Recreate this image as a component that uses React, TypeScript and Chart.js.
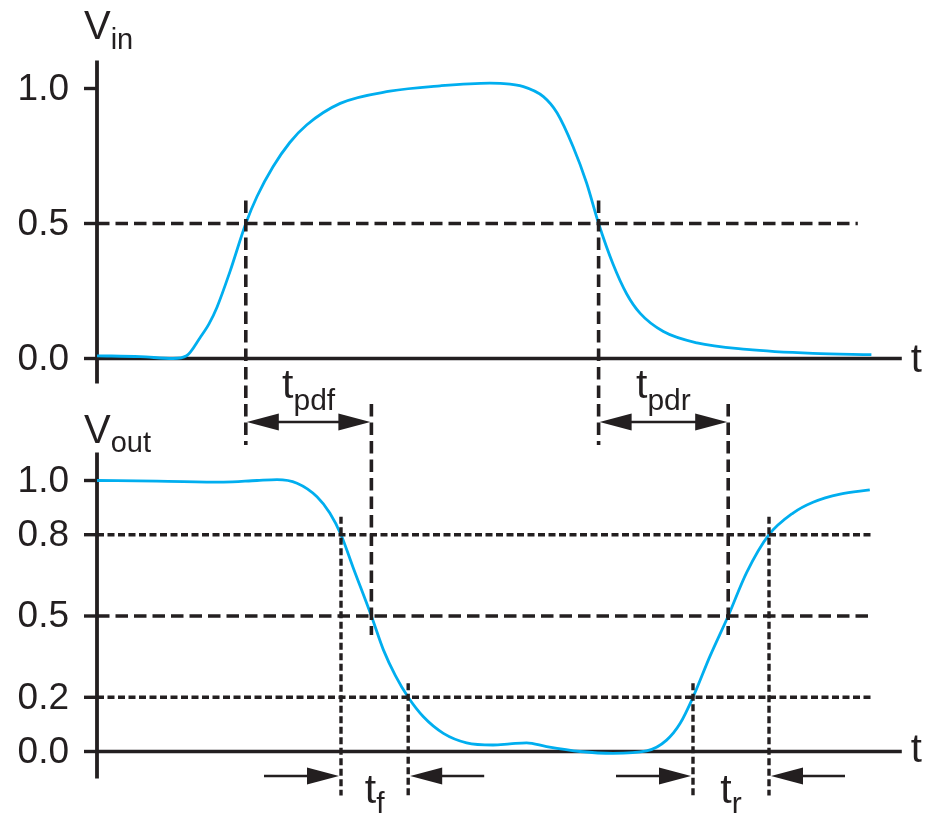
import React, { useEffect, useRef } from 'react';
import { Chart, registerables } from 'chart.js';

Chart.register(...registerables);

// ---------------- data (time in arbitrary units, voltage normalised) ----------------
const VIN_T = [0, 5.4, 9.5, 11.2, 12.9, 14.0, 15.0, 16.6, 18.6, 20.0, 22.0, 24.1, 26.2, 30.4, 36.6, 42.9, 49.1, 50.4, 53.3, 55.8, 57.5, 59.5, 61.2, 62.7, 64.5, 66.2, 67.9, 70.8, 75.0, 81.2, 89.5, 96.8];
const VIN_V = [0.010, 0.007, 0.0, 0.010, 0.078, 0.128, 0.19, 0.32, 0.50, 0.60, 0.71, 0.80, 0.865, 0.945, 0.99, 1.01, 1.02, 1.019, 1.007, 0.97, 0.91, 0.785, 0.65, 0.50, 0.35, 0.24, 0.167, 0.10, 0.058, 0.034, 0.019, 0.014];

const VOUT_T = [0, 7.5, 15.8, 20.0, 22.5, 25.0, 27.5, 29.1, 30.5, 32.0, 34.3, 35.8, 37.3, 38.9, 40.8, 43.3, 46.2, 49.5, 51.6, 53.7, 56.2, 60.4, 64.5, 68.7, 71.2, 72.9, 74.5, 76.6, 78.9, 81.2, 84.0, 87.0, 89.5, 92.9, 96.6];
const VOUT_V = [1.0, 0.998, 0.994, 1.0, 1.003, 0.99, 0.94, 0.88, 0.80, 0.68, 0.50, 0.375, 0.28, 0.20, 0.128, 0.067, 0.032, 0.024, 0.028, 0.032, 0.018, 0.0, -0.007, 0.002, 0.042, 0.104, 0.20, 0.35, 0.50, 0.66, 0.80, 0.88, 0.92, 0.95, 0.965];

const IN_TICKS = [0, 0.5, 1.0];
const IN_TICK_LABELS = ['0.0', '0.5', '1.0'];
const OUT_TICKS = [0, 0.2, 0.5, 0.8, 1.0];
const OUT_TICK_LABELS = ['0.0', '0.2', '0.5', '0.8', '1.0'];

const IN_DASHED_LEVELS = [0.5];
const OUT_DASHED_LEVELS = [0.5];
const OUT_DOTTED_LEVELS = [0.8, 0.2];

const T_AXIS_END = 100.6;
const IN_REF_END = 95.1;
const OUT_REF_END = 97.0;

// propagation delays (50% crossings)
const T_PDF = [18.6, 34.3];
const T_PDR = [62.7, 78.9];
// fall / rise times (80%-20% and 20%-80%)
const T_F = [30.5, 38.9];
const T_F_LEVELS = [0.8, 0.2];
const T_R = [74.5, 84.0];
const T_R_LEVELS = [0.2, 0.8];

// ---------------- styles ----------------
const INK = '#231f20';
const CYAN = '#00aeef';
const FONT = '"Liberation Sans", Arial, Helvetica, sans-serif';
const W = 936;
const H = 823;

function line(ctx: CanvasRenderingContext2D, x1: number, y1: number, x2: number, y2: number) {
  ctx.beginPath();
  ctx.moveTo(x1, y1);
  ctx.lineTo(x2, y2);
  ctx.stroke();
}

function subText(
  ctx: CanvasRenderingContext2D,
  x: number,
  y: number,
  main: string,
  sub: string,
  mainSize: number,
  subSize: number,
  subDy: number,
  align: 'left' | 'center'
) {
  ctx.fillStyle = INK;
  ctx.textBaseline = 'alphabetic';
  ctx.textAlign = 'left';
  ctx.font = `${mainSize}px ${FONT}`;
  const wm = ctx.measureText(main).width;
  ctx.font = `${subSize}px ${FONT}`;
  const ws = ctx.measureText(sub).width;
  const sx = align === 'center' ? x - (wm + ws) / 2 : x;
  ctx.font = `${mainSize}px ${FONT}`;
  ctx.fillText(main, sx, y);
  ctx.font = `${subSize}px ${FONT}`;
  ctx.fillText(sub, sx + wm, y + subDy);
}

function head(ctx: CanvasRenderingContext2D, tipX: number, y: number, dir: number) {
  const len = 32;
  const half = 8.5;
  ctx.fillStyle = INK;
  ctx.beginPath();
  ctx.moveTo(tipX, y);
  ctx.lineTo(tipX - dir * len, y - half);
  ctx.lineTo(tipX - dir * len, y + half);
  ctx.closePath();
  ctx.fill();
}

function drawAxes(
  ctx: CanvasRenderingContext2D,
  xs: any,
  ys: any,
  ticks: number[],
  labels: string[],
  sub: string,
  topPad: number,
  bottomPad: number,
  vOff: number,
  subDy: number,
  tOff: number
) {
  const x0 = xs.getPixelForValue(0);
  const y0 = ys.getPixelForValue(0);
  const y1 = ys.getPixelForValue(1);
  const xEnd = xs.getPixelForValue(T_AXIS_END);
  ctx.strokeStyle = INK;
  ctx.setLineDash([]);
  ctx.lineCap = 'butt';
  ctx.lineWidth = 3.8;
  line(ctx, x0, y1 - topPad, x0, y0 + bottomPad);
  ctx.lineWidth = 3.6;
  line(ctx, x0, y0, xEnd, y0);
  ticks.forEach((v, i) => {
    const py = ys.getPixelForValue(v);
    ctx.lineWidth = 3.4;
    line(ctx, x0 - 13, py, x0, py);
    ctx.fillStyle = INK;
    ctx.font = `37px ${FONT}`;
    ctx.textAlign = 'right';
    ctx.textBaseline = 'middle';
    ctx.fillText(labels[i], x0 - 28, py + 1);
  });
  subText(ctx, x0 - 13, y1 - vOff, 'V', sub, 40, 29, subDy, 'left');
  ctx.fillStyle = INK;
  ctx.font = `40px ${FONT}`;
  ctx.textAlign = 'left';
  ctx.textBaseline = 'alphabetic';
  ctx.fillText('t', xEnd + 9, y0 + tOff);
}

const diagramPlugin = {
  id: 'diagram',
  beforeDatasetsDraw(chart: any) {
    const ctx: CanvasRenderingContext2D = chart.ctx;
    const xs = chart.scales.x;
    ctx.save();
    drawAxes(ctx, xs, chart.scales.yIn, IN_TICKS, IN_TICK_LABELS, 'in', 28, 25, 50, 10, 13);
    drawAxes(ctx, xs, chart.scales.yOut, OUT_TICKS, OUT_TICK_LABELS, 'out', 28, 27, 38, 9, 10);
    ctx.restore();
  },
  afterDatasetsDraw(chart: any) {
    const ctx: CanvasRenderingContext2D = chart.ctx;
    const xs = chart.scales.x;
    const yi = chart.scales.yIn;
    const yo = chart.scales.yOut;
    const X = (t: number) => xs.getPixelForValue(t);
    const YI = (v: number) => yi.getPixelForValue(v);
    const YO = (v: number) => yo.getPixelForValue(v);
    const x0 = X(0);
    ctx.save();
    ctx.strokeStyle = INK;
    ctx.lineCap = 'butt';

    // horizontal reference levels
    ctx.lineWidth = 3.6;
    ctx.setLineDash([12.5, 6]);
    IN_DASHED_LEVELS.forEach((v) => line(ctx, x0, YI(v), X(IN_REF_END), YI(v)));
    OUT_DASHED_LEVELS.forEach((v) => line(ctx, x0, YO(v), X(OUT_REF_END), YO(v)));
    ctx.lineWidth = 3.4;
    ctx.setLineDash([7, 3.5]);
    OUT_DOTTED_LEVELS.forEach((v) => line(ctx, x0, YO(v), X(OUT_REF_END), YO(v)));

    // propagation delay markers
    const aY = YI(0) + 63.5;
    ctx.lineWidth = 3.6;
    ctx.setLineDash([12.5, 6]);
    [T_PDF[0], T_PDR[0]].forEach((t) => line(ctx, X(t), YI(0.5) - 23, X(t), aY + 23));
    [T_PDF[1], T_PDR[1]].forEach((t) => line(ctx, X(t), aY - 18, X(t), YO(0.5) + 19));
    ctx.setLineDash([]);
    [
      [T_PDF, 'pdf'],
      [T_PDR, 'pdr'],
    ].forEach(([pair, sub]: any) => {
      const x1 = X(pair[0]);
      const x2 = X(pair[1]);
      ctx.lineWidth = 2.4;
      line(ctx, x1 + 10, aY, x2 - 10, aY);
      head(ctx, x1 + 1, aY, -1);
      head(ctx, x2 - 1, aY, 1);
      subText(ctx, (x1 + x2) / 2, aY - 24, 't', sub, 41, 30, 12, 'center');
    });

    // rise / fall markers
    const bY = YO(0) + 24.5;
    [
      [T_F, T_F_LEVELS, 'f'],
      [T_R, T_R_LEVELS, 'r'],
    ].forEach(([pair, levels, sub]: any) => {
      const x1 = X(pair[0]);
      const x2 = X(pair[1]);
      ctx.strokeStyle = INK;
      ctx.lineWidth = 3.4;
      ctx.setLineDash([7, 3.5]);
      line(ctx, x1, YO(levels[0]) - (levels[0] > 0.5 ? 18 : 14), x1, YO(0) + 44);
      line(ctx, x2, YO(levels[1]) - (levels[1] > 0.5 ? 18 : 14), x2, YO(0) + 44);
      ctx.setLineDash([]);
      ctx.lineWidth = 2.4;
      line(ctx, x1 - 77, bY, x1 - 10, bY);
      head(ctx, x1 - 2, bY, 1);
      line(ctx, x2 + 10, bY, x2 + 76, bY);
      head(ctx, x2 + 2, bY, -1);
      subText(ctx, (x1 + x2) / 2, bY + 27, 't', sub, 41, 30, 10, 'center');
    });

    ctx.restore();
  },
};

// pixel frame of the diagram (where t = 0 and the voltage levels sit)
const T0_PX = 97;
const PX_PER_T = 8;
const IN_ZERO_PX = 358.5;
const IN_PX_PER_V = 270;
const OUT_ZERO_PX = 751.5;
const OUT_PX_PER_V = 271;

export default function App() {
  const ref = useRef<HTMLCanvasElement>(null);
  useEffect(() => {
    const canvas = ref.current;
    if (!canvas) return;
    const chart = new Chart(canvas, {
      type: 'line',
      data: {
        datasets: [
          {
            label: 'Vin',
            data: VIN_T.map((t, i) => ({ x: t, y: VIN_V[i] })),
            yAxisID: 'yIn',
            borderColor: CYAN,
            borderWidth: 2.8,
            pointRadius: 0,
            fill: false,
            cubicInterpolationMode: 'monotone',
          },
          {
            label: 'Vout',
            data: VOUT_T.map((t, i) => ({ x: t, y: VOUT_V[i] })),
            yAxisID: 'yOut',
            borderColor: CYAN,
            borderWidth: 2.8,
            pointRadius: 0,
            fill: false,
            cubicInterpolationMode: 'monotone',
          },
        ],
      },
      options: {
        responsive: false,
        devicePixelRatio: 1,
        animation: false,
        events: [],
        layout: { padding: 0 },
        plugins: {
          legend: { display: false },
          tooltip: { enabled: false },
          title: { display: false },
        },
        scales: {
          x: {
            type: 'linear',
            display: false,
            min: -T0_PX / PX_PER_T,
            max: (W - T0_PX) / PX_PER_T,
          },
          yIn: {
            type: 'linear',
            display: false,
            min: -(H - IN_ZERO_PX) / IN_PX_PER_V,
            max: IN_ZERO_PX / IN_PX_PER_V,
          },
          yOut: {
            type: 'linear',
            display: false,
            min: -(H - OUT_ZERO_PX) / OUT_PX_PER_V,
            max: OUT_ZERO_PX / OUT_PX_PER_V,
          },
        },
      } as any,
      plugins: [diagramPlugin],
    });
    return () => chart.destroy();
  }, []);
  return (
    <div style={{ position: 'fixed', left: 0, top: 0, width: W, height: H, background: '#fff' }}>
      <canvas ref={ref} width={W} height={H} style={{ display: 'block', width: W, height: H }} />
    </div>
  );
}
